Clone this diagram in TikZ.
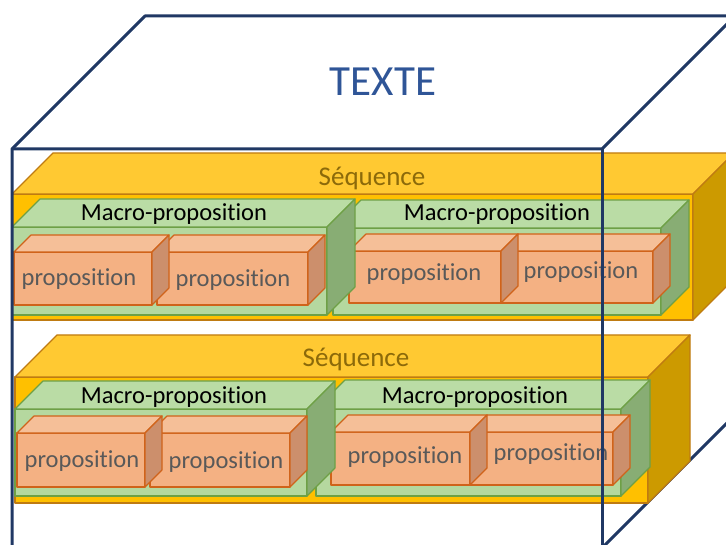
\documentclass[tikz,border=0pt]{standalone}
\usepackage{fontspec}
\setmainfont{Carlito}[Ligatures=NoCommon]
\usepackage{tikz}

\definecolor{cubeline}{HTML}{203864}
\definecolor{texteblue}{HTML}{2F5597}
\definecolor{seqfront}{HTML}{FFC000}
\definecolor{seqtop}{HTML}{FFC932}
\definecolor{seqside}{HTML}{CC9A00}
\definecolor{seqline}{HTML}{BF7B12}
\definecolor{seqtext}{HTML}{8C6A0A}
\definecolor{macrofront}{HTML}{B5D89F}
\definecolor{macrotop}{HTML}{BADCA5}
\definecolor{macroside}{HTML}{88AD74}
\definecolor{macroline}{HTML}{6EA046}
\definecolor{propfront}{HTML}{F4B183}
\definecolor{proptop}{HTML}{F5BF98}
\definecolor{propside}{HTML}{CC8F6C}
\definecolor{propline}{HTML}{D0631A}
\definecolor{proptext}{HTML}{595959}

% pave #1 kind, #2 x, #3 y, #4 width, #5 height, #6 depth
\newcommand{\pave}[6]{%
	\draw [#1 front] (#2,#3) rectangle ++(#4,#5);
	\draw [#1 top] (#2,#3) -- ++(#6,-#6) -- ++(#4,0) -- ++(-#6,#6) -- cycle;
	\draw [#1 side] (#2,#3) ++(#4,0) -- ++(#6,-#6) -- ++(0,#5) -- ++(-#6,#6) -- cycle;
}

\begin{document}
\begin{tikzpicture}[x=1pt,y=-1pt,line join=round,
	seq front/.style={fill=seqfront,draw=seqline,line width=1.3pt},
	seq top/.style={fill=seqtop,draw=seqline,line width=1.3pt},
	seq side/.style={fill=seqside,draw=seqline,line width=1.3pt},
	macro front/.style={fill=macrofront,draw=macroline,line width=1.2pt},
	macro top/.style={fill=macrotop,draw=macroline,line width=1.2pt},
	macro side/.style={fill=macroside,draw=macroline,line width=1.2pt},
	prop front/.style={fill=propfront,draw=propline,line width=1.2pt},
	prop top/.style={fill=proptop,draw=propline,line width=1.2pt},
	prop side/.style={fill=propside,draw=propline,line width=1.2pt},
	seqlabel/.style={text=seqtext,font=\fontsize{27}{30}\selectfont,inner sep=0pt},
	macrolabel/.style={text=black,font=\fontsize{24.5}{28}\selectfont,inner sep=0pt},
	proplabel/.style={text=proptext,font=\fontsize{24.5}{28}\selectfont,inner sep=0pt},
	cube/.style={draw=cubeline,line width=3pt}]
	\useasboundingbox (0,0) rectangle (726,545);
	\clip (0,0) rectangle (726,545);

	% texte, back edges
	\draw [cube] (602,548) -- (735,415);

	% sequence 1
	\pave{seq}{12}{194}{681}{126}{41}
	\node [seqlabel] (seqA) at (372,178) {Séquence};
	\pave{macro}{333}{228}{328}{87}{28}
	\node [macrolabel] (macroB) at (497,214) {Macro-proposition};
	\pave{prop}{501}{251}{152}{52}{17}
	\node [proplabel] (propB2) at (581,272) {proposition};
	\pave{prop}{349}{251}{152}{52}{17}
	\node [proplabel] (propB1) at (424,274) {proposition};
	\pave{macro}{12}{227}{315}{88}{28}
	\node [macrolabel] (macroA) at (174,214) {Macro-proposition};
	\pave{prop}{157}{252}{151}{53}{17}
	\node [proplabel] (propA2) at (233,280) {proposition};
	\pave{prop}{14}{252}{138}{53}{17}
	\node [proplabel] (propA1) at (79,279) {proposition};

	% sequence 2
	\pave{seq}{15}{377}{633}{126}{42}
	\node [seqlabel] (seqB) at (356,359) {Séquence};
	\pave{macro}{316}{409}{305}{87}{29}
	\node [macrolabel] (macroD) at (475,397) {Macro-proposition};
	\pave{prop}{470}{432}{143}{53}{17}
	\node [proplabel] (propD2) at (551,454) {proposition};
	\pave{prop}{331}{432}{139}{53}{17}
	\node [proplabel] (propD1) at (405,457) {proposition};
	\pave{macro}{15}{409}{292}{87}{28}
	\node [macrolabel] (macroC) at (174,397) {Macro-proposition};
	\pave{prop}{150}{433}{140}{54}{17}
	\node [proplabel] (propC2) at (226,462) {proposition};
	\pave{prop}{17}{433}{128}{54}{17}
	\node [proplabel] (propC1) at (82,461) {proposition};

	% texte, front edges
	\draw [cube] (12,548) -- (12,149) -- (145,16) -- (735,16);
	\draw [cube] (12,149) -- (602,149) -- (735,16);
	\draw [cube] (602,149) -- (602,548);
	\node [text=texteblue,font=\fontsize{43}{48}\selectfont,inner sep=0pt] (texte) at (383,82) {TEXTE};
\end{tikzpicture}
\end{document}
